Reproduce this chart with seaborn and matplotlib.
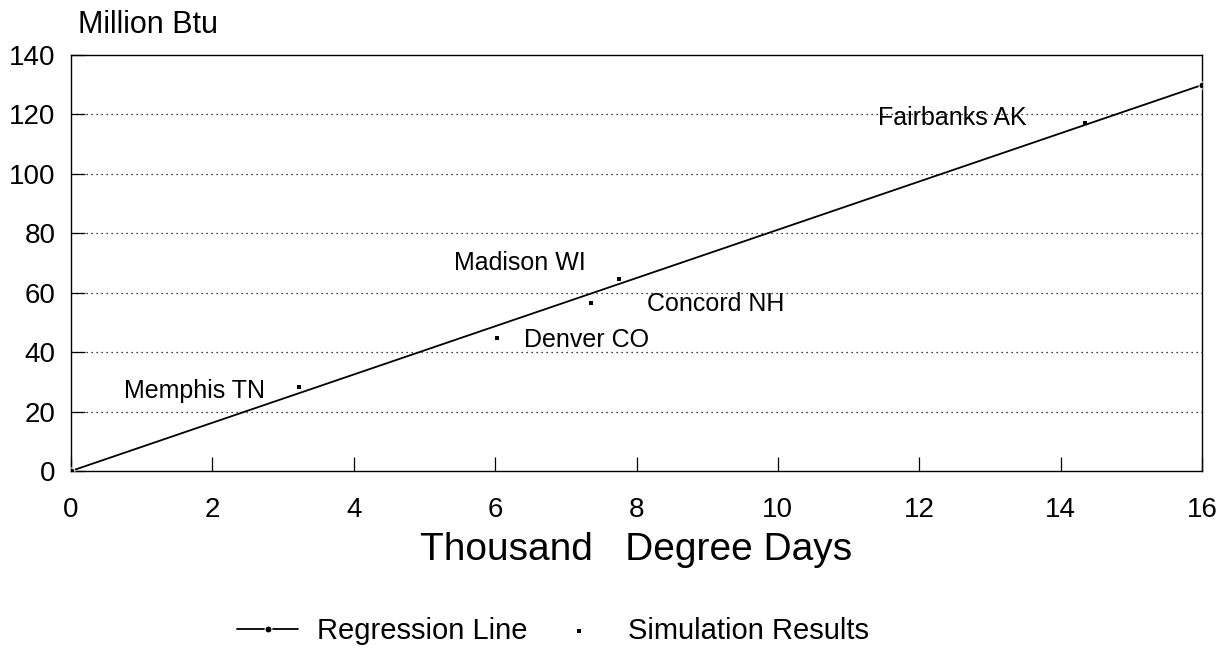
import matplotlib
matplotlib.use("Agg")
import matplotlib.pyplot as plt
import seaborn as sns
import pandas as pd

# Data
cities = ["Memphis TN", "Denver CO", "Concord NH", "Madison WI", "Fairbanks AK"]
degree_days = [3.23, 6.03, 7.36, 7.75, 14.34]
energy = [28.3, 44.9, 56.5, 64.5, 117.1]
reg_x = [0, 16]
reg_y = [0, 129.9]
x_ticks = [0, 2, 4, 6, 8, 10, 12, 14, 16]
y_ticks = [0, 20, 40, 60, 80, 100, 120, 140]

sns.set_theme(style="white")
plt.rcParams['font.family'] = ['Liberation Sans', 'DejaVu Sans']
plt.rcParams['text.color'] = 'black'

fig = plt.figure(figsize=(12.32, 6.63), dpi=100)
ax = fig.add_axes([71 / 1232, 1 - 471 / 663, 1131 / 1232, 416 / 663])

sim = pd.DataFrame({"x": degree_days, "y": energy, "city": cities})
reg = pd.DataFrame({"x": reg_x, "y": reg_y})

for yv in y_ticks[1:-1]:
    ax.axhline(yv, color="black", lw=0.9, ls=(0, (1, 3)), zorder=1)

sns.lineplot(data=reg, x="x", y="y", ax=ax, color="black", lw=1.3,
             marker="o", markersize=5, label="Regression Line", zorder=3)
sns.scatterplot(data=sim, x="x", y="y", ax=ax, color="black", marker="s",
                s=11, linewidth=0, label="Simulation Results", zorder=4)

# city label offsets (points) from each point, baseline-anchored
offsets = {
    "Memphis TN": (-126, -8),
    "Denver CO": (19, -7),
    "Concord NH": (40, -6),
    "Madison WI": (-119, 6.5),
    "Fairbanks AK": (-149, -1.5),
}
for c, xv, yv in zip(cities, degree_days, energy):
    dx, dy = offsets[c]
    ax.annotate(c, (xv, yv), xytext=(dx, dy), textcoords="offset points",
                fontsize=18, va="baseline", ha="left", color="black")

ax.set_xlim(0, 16)
ax.set_ylim(0, 140)
ax.set_xticks(x_ticks)
ax.set_yticks(y_ticks)
ax.set_xticklabels([str(v) for v in x_ticks], fontsize=20)
ax.set_yticklabels([str(v) for v in y_ticks], fontsize=20)
ax.tick_params(axis="x", which="major", bottom=True, direction="in", length=10,
               width=0.9, pad=19, colors="black", labelcolor="black")
ax.tick_params(axis="y", which="major", left=True, direction="in", length=10,
               width=0.9, pad=11, colors="black", labelcolor="black")
for s in ax.spines.values():
    s.set_color("black")
    s.set_linewidth(1.0)

ax.set_xlabel("Thousand   Degree Days", fontsize=28, labelpad=6, color="black")
ax.set_ylabel("")
fig.text(78 / 1232, 1 - 33 / 663, "Million Btu", fontsize=22, ha="left",
         va="baseline", color="black")

handles, labels = ax.get_legend_handles_labels()
ax.legend(handles, labels, loc="center", bbox_to_anchor=(0.449, 1 - 631 / 663),
          bbox_transform=fig.transFigure, ncol=2, frameon=False, fontsize=21,
          columnspacing=0.7, handlelength=2.1, handletextpad=0.65, markerscale=1.0)
for t in ax.get_legend().get_texts():
    t.set_color("black")

fig.savefig("out.png", dpi=100)
